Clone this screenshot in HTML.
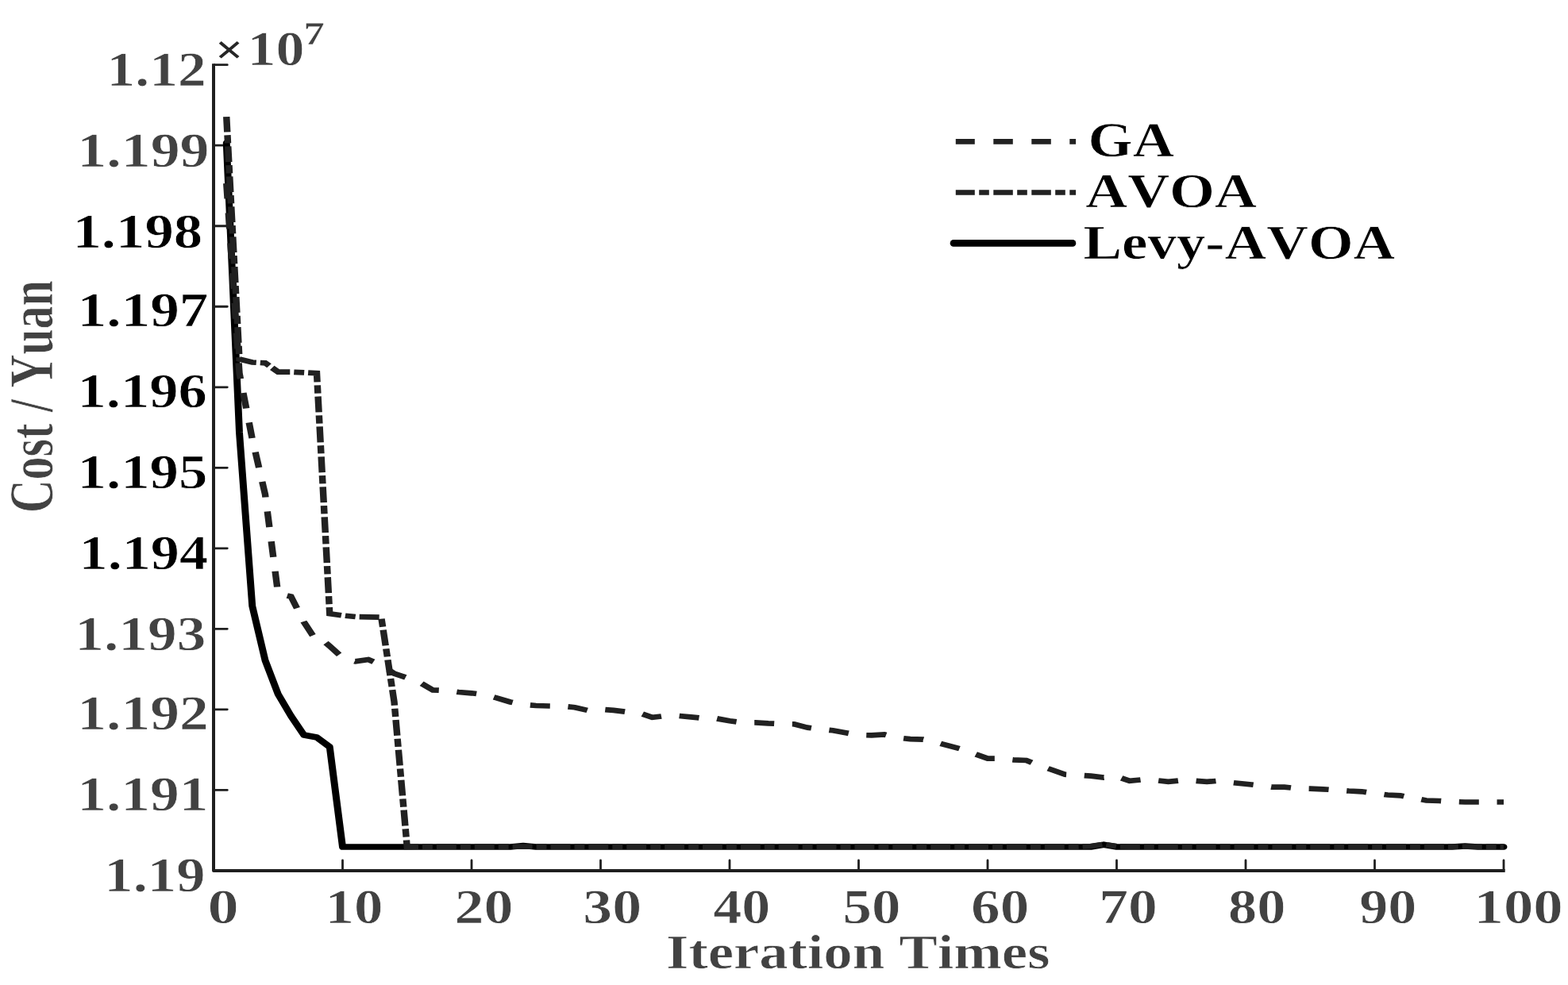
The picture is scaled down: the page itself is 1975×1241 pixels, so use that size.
<!DOCTYPE html>
<html lang="en"><head><meta charset="utf-8"><title>Convergence curves</title>
<style>
html,body{margin:0;padding:0;background:#fff;}
body{width:1975px;height:1241px;overflow:hidden;}
svg{display:block;}
svg text{font-family:"Liberation Serif","DejaVu Serif",serif;font-size:100px;font-kerning:none;text-rendering:geometricPrecision;}
</style></head>
<body>
<svg width="1975" height="1241" viewBox="0 0 1975 1241">
<rect width="1975" height="1241" fill="#ffffff"/>
<g id="axes">
<path d="M269 80.3 V1096.9 H1895.7" fill="none" stroke="#1f1f1f" stroke-width="4" stroke-linejoin="round"/>
<path d="M270 81.70 H286.3 M270 183.22 H286.3 M270 284.74 H286.3 M270 386.26 H286.3 M270 487.78 H286.3 M270 589.30 H286.3 M270 690.82 H286.3 M270 792.34 H286.3 M270 893.86 H286.3 M270 995.38 H286.3 M431.50 1096 V1084 M594.00 1096 V1084 M756.50 1096 V1084 M919.00 1096 V1084 M1081.50 1096 V1084 M1244.00 1096 V1084 M1406.50 1096 V1084 M1569.00 1096 V1084 M1731.50 1096 V1084 M1894.00 1096 V1084" fill="none" stroke="#1f1f1f" stroke-width="2.8" stroke-linecap="round"/>
</g>
<g id="curves">
<g transform="scale(1.16 1)">
<path d="M245.91 180.00 L259.91 545.00 L273.92 763.50 L287.93 832.00 L301.94 874.50 L315.95 902.00 L329.96 926.00 L343.97 929.00 L357.97 941.00 L371.98 1067.00 L385.99 1067.00 L400.00 1067.00 L414.01 1067.00 L428.02 1067.00 L442.03 1067.00 L456.03 1067.00 L470.04 1067.00 L484.05 1067.00 L498.06 1067.00 L512.07 1067.00 L526.08 1067.00 L540.09 1067.00 L554.09 1067.00 L568.10 1065.50 L582.11 1067.00 L596.12 1067.00 L610.13 1067.00 L624.14 1067.00 L638.15 1067.00 L652.16 1067.00 L666.16 1067.00 L680.17 1067.00 L694.18 1067.00 L708.19 1067.00 L722.20 1067.00 L736.21 1067.00 L750.22 1067.00 L764.22 1067.00 L778.23 1067.00 L792.24 1067.00 L806.25 1067.00 L820.26 1067.00 L834.27 1067.00 L848.28 1067.00 L862.28 1067.00 L876.29 1067.00 L890.30 1067.00 L904.31 1067.00 L918.32 1067.00 L932.33 1067.00 L946.34 1067.00 L960.34 1067.00 L974.35 1067.00 L988.36 1067.00 L1002.37 1067.00 L1016.38 1067.00 L1030.39 1067.00 L1044.40 1067.00 L1058.41 1067.00 L1072.41 1067.00 L1086.42 1067.00 L1100.43 1067.00 L1114.44 1067.00 L1128.45 1067.00 L1142.46 1067.00 L1156.47 1067.00 L1170.47 1067.00 L1184.48 1067.00 L1198.49 1064.20 L1212.50 1067.00 L1226.51 1067.00 L1240.52 1067.00 L1254.53 1067.00 L1268.53 1067.00 L1282.54 1067.00 L1296.55 1067.00 L1310.56 1067.00 L1324.57 1067.00 L1338.58 1067.00 L1352.59 1067.00 L1366.59 1067.00 L1380.60 1067.00 L1394.61 1067.00 L1408.62 1067.00 L1422.63 1067.00 L1436.64 1067.00 L1450.65 1067.00 L1464.66 1067.00 L1478.66 1067.00 L1492.67 1067.00 L1506.68 1067.00 L1520.69 1067.00 L1534.70 1067.00 L1548.71 1067.00 L1562.72 1067.00 L1576.72 1067.00 L1590.73 1066.00 L1604.74 1067.00 L1618.75 1067.00 L1632.76 1067.00" fill="none" stroke="#000000" stroke-width="7.7" stroke-linecap="round" stroke-linejoin="round"/>
</g>
<g transform="scale(1.26 1)">
<path d="M226.39 231.00 L239.29 470.00 L252.18 553.00 L265.08 623.00 L277.98 748.00 L290.87 751.50 L303.77 783.50 L316.67 808.40 L325.69 809.80 L329.56 814.10 L342.46 828.50 L355.36 833.40 L368.25 831.00 L381.15 838.00 L394.05 848.60 L406.94 853.90 L419.84 860.00 L432.74 869.40 L445.63 870.00 L458.53 872.00 L471.43 873.30 L484.33 875.30 L497.22 879.60 L510.12 884.50 L523.02 887.80 L535.91 889.00 L548.81 889.50 L561.71 889.70 L574.60 891.20 L587.50 895.00 L600.40 893.60 L613.29 894.90 L626.19 896.90 L639.09 898.20 L651.98 903.90 L664.88 901.90 L677.78 901.90 L690.67 903.30 L703.57 904.90 L716.47 905.30 L729.37 908.30 L742.26 910.30 L755.16 910.30 L768.06 911.30 L780.95 912.00 L793.85 912.30 L806.75 916.60 L819.64 918.60 L832.54 920.30 L845.44 923.30 L858.33 926.00 L871.23 926.40 L884.13 925.50 L897.02 929.40 L909.92 931.10 L922.82 931.60 L935.71 935.20 L948.61 939.70 L961.51 943.90 L974.40 949.90 L987.30 955.60 L1000.20 955.60 L1013.10 957.30 L1025.99 958.00 L1038.89 964.50 L1051.79 970.00 L1064.68 975.80 L1077.58 976.60 L1090.48 977.70 L1103.37 979.60 L1116.27 978.20 L1129.17 983.90 L1142.06 982.30 L1154.96 983.10 L1167.86 984.90 L1180.75 983.30 L1193.65 983.60 L1206.55 984.90 L1219.44 983.60 L1232.34 986.10 L1245.24 987.80 L1258.13 989.40 L1271.03 991.60 L1283.93 991.60 L1296.83 993.30 L1309.72 993.60 L1322.62 994.30 L1335.52 995.40 L1348.41 996.50 L1361.31 997.30 L1374.21 999.50 L1387.10 1001.50 L1400.00 1002.30 L1412.90 1005.50 L1425.79 1008.50 L1438.69 1009.00 L1451.59 1010.00 L1464.48 1010.50 L1477.38 1010.50 L1490.28 1010.50 L1503.17 1010.50" fill="none" stroke="#212121" stroke-width="6.7" stroke-linecap="butt" stroke-linejoin="miter" stroke-dasharray="19.84 18.02" stroke-dashoffset="0.40"/>
<path d="M226.39 147.20 L239.29 452.40 L252.18 456.50 L265.08 457.30 L277.98 468.60 L290.87 468.60 L303.77 469.40 L316.67 470.20 L329.56 773.20 L342.46 775.40 L355.36 777.00 L368.25 777.30 L381.15 777.70 L394.05 884.00 L406.94 1067.00 L419.84 1066.60 L432.74 1066.60 L445.63 1066.60 L458.53 1066.60 L471.43 1066.60 L484.33 1066.60 L497.22 1066.60 L510.12 1066.60 L523.02 1066.60 L535.91 1066.60 L548.81 1066.60 L561.71 1066.60 L574.60 1066.60 L587.50 1066.60 L600.40 1066.60 L613.29 1066.60 L626.19 1066.60 L639.09 1066.60 L651.98 1066.60 L664.88 1066.60 L677.78 1066.60 L690.67 1066.60 L703.57 1066.60 L716.47 1066.60 L729.37 1066.60 L742.26 1066.60 L755.16 1066.60 L768.06 1066.60 L780.95 1066.60 L793.85 1066.60 L806.75 1066.60 L819.64 1066.60 L832.54 1066.60 L845.44 1066.60 L858.33 1066.60 L871.23 1066.60 L884.13 1066.60 L897.02 1066.60 L909.92 1066.60 L922.82 1066.60 L935.71 1066.60 L948.61 1066.60 L961.51 1066.60 L974.40 1066.60 L987.30 1066.60 L1000.20 1066.60 L1013.10 1066.60 L1025.99 1066.60 L1038.89 1066.60 L1051.79 1066.60 L1064.68 1066.60 L1077.58 1066.60 L1090.48 1066.00 L1103.37 1063.80 L1116.27 1066.20 L1129.17 1066.60 L1142.06 1066.60 L1154.96 1066.60 L1167.86 1066.60 L1180.75 1066.60 L1193.65 1066.60 L1206.55 1066.60 L1219.44 1066.60 L1232.34 1066.60 L1245.24 1066.60 L1258.13 1066.60 L1271.03 1066.60 L1283.93 1066.60 L1296.83 1066.60 L1309.72 1066.60 L1322.62 1066.60 L1335.52 1066.60 L1348.41 1066.60 L1361.31 1066.60 L1374.21 1066.60 L1387.10 1066.60 L1400.00 1066.60 L1412.90 1066.60 L1425.79 1066.60 L1438.69 1066.60 L1451.59 1066.60 L1464.48 1066.60 L1477.38 1066.60 L1490.28 1066.60 L1503.17 1066.60" fill="none" stroke="#212121" stroke-width="6.7" stroke-linecap="butt" stroke-linejoin="miter" stroke-dasharray="19.84 3.97 10.24 3.94" stroke-dashoffset="0.75"/>
</g>
</g>
<g id="legend">
<path d="M1203.8 178.45 H1355.1" stroke="#212121" stroke-width="6.7" stroke-dasharray="24.5 23.5" stroke-dashoffset="0.5" fill="none"/>
<path d="M1203.8 242.5 H1355.1" stroke="#212121" stroke-width="6.7" stroke-dasharray="24.5 5.4 12.6 5.5" stroke-dashoffset="0.5" fill="none"/>
<path d="M1201 306.4 H1351" stroke="#000000" stroke-width="8.6" stroke-linecap="round" fill="none"/>
</g>
<g id="labels">
<text transform="matrix(0.71492 0 0 0.61558 134.56 107.84)" font-weight="bold" fill="#424242" stroke="#ffffff" stroke-width="1.1">1.12</text>
<text transform="matrix(0.73903 0 0 0.61603 97.26 210.41)" font-weight="bold" fill="#424242" stroke="#ffffff" stroke-width="1.1">1.199</text>
<text transform="matrix(0.72783 0 0 0.61089 91.44 312.09)" font-weight="bold" fill="#000000" stroke="#ffffff" stroke-width="1.1">1.198</text>
<text transform="matrix(0.73361 0 0 0.61129 97.45 411.07)" font-weight="bold" fill="#000000" stroke="#ffffff" stroke-width="1.1">1.197</text>
<text transform="matrix(0.72583 0 0 0.61066 97.50 513.31)" font-weight="bold" fill="#000000" stroke="#ffffff" stroke-width="1.1">1.196</text>
<text transform="matrix(0.72874 0 0 0.61123 97.47 615.27)" font-weight="bold" fill="#000000" stroke="#ffffff" stroke-width="1.1">1.195</text>
<text transform="matrix(0.72237 0 0 0.61136 99.51 717.19)" font-weight="bold" fill="#000000" stroke="#ffffff" stroke-width="1.1">1.194</text>
<text transform="matrix(0.73327 0 0 0.61472 94.32 819.31)" font-weight="bold" fill="#424242" stroke="#ffffff" stroke-width="1.1">1.193</text>
<text transform="matrix(0.73563 0 0 0.61598 97.27 919.22)" font-weight="bold" fill="#424242" stroke="#ffffff" stroke-width="1.1">1.192</text>
<text transform="matrix(0.73545 0 0 0.61669 97.17 1021.34)" font-weight="bold" fill="#424242" stroke="#ffffff" stroke-width="1.1">1.191</text>
<text transform="matrix(0.72687 0 0 0.61506 131.35 1123.12)" font-weight="bold" fill="#424242" stroke="#ffffff" stroke-width="1.1">1.19</text>
<text transform="matrix(0.78371 0 0 0.61409 261.38 1162.96)" font-weight="bold" fill="#424242" stroke="#ffffff" stroke-width="1.1">0</text>
<text transform="matrix(0.72974 0 0 0.61226 409.47 1162.82)" font-weight="bold" fill="#424242" stroke="#ffffff" stroke-width="1.1">10</text>
<text transform="matrix(0.73919 0 0 0.61232 572.61 1162.98)" font-weight="bold" fill="#424242" stroke="#ffffff" stroke-width="1.1">20</text>
<text transform="matrix(0.73880 0 0 0.61174 734.22 1163.16)" font-weight="bold" fill="#424242" stroke="#ffffff" stroke-width="1.1">30</text>
<text transform="matrix(0.72078 0 0 0.61305 898.28 1163.05)" font-weight="bold" fill="#424242" stroke="#ffffff" stroke-width="1.1">40</text>
<text transform="matrix(0.72985 0 0 0.61383 1061.57 1162.89)" font-weight="bold" fill="#424242" stroke="#ffffff" stroke-width="1.1">50</text>
<text transform="matrix(0.73121 0 0 0.61121 1223.10 1162.57)" font-weight="bold" fill="#424242" stroke="#ffffff" stroke-width="1.1">60</text>
<text transform="matrix(0.73576 0 0 0.61528 1384.18 1162.86)" font-weight="bold" fill="#424242" stroke="#ffffff" stroke-width="1.1">70</text>
<text transform="matrix(0.72469 0 0 0.61184 1546.94 1162.63)" font-weight="bold" fill="#424242" stroke="#ffffff" stroke-width="1.1">80</text>
<text transform="matrix(0.72036 0 0 0.61160 1712.19 1163.46)" font-weight="bold" fill="#424242" stroke="#ffffff" stroke-width="1.1">90</text>
<text transform="matrix(0.74702 0 0 0.61394 1856.59 1163.49)" font-weight="bold" fill="#424242" stroke="#ffffff" stroke-width="1.1">100</text>
<text transform="matrix(0.72822 0 0 0.61142 839.12 1220.34)" font-weight="bold" fill="#424242" stroke="#ffffff" stroke-width="1.1">Iteration Times</text>
<text transform="matrix(0.72283 0 0 0.61913 1370.55 196.82)" font-weight="bold" fill="#000000" stroke="#ffffff" stroke-width="1.1">GA</text>
<text transform="matrix(0.73285 0 0 0.60990 1367.22 261.14)" font-weight="bold" fill="#000000" stroke="#ffffff" stroke-width="1.1">AVOA</text>
<text transform="matrix(0.72890 0 0 0.61240 1364.49 326.23)" font-weight="bold" fill="#000000" stroke="#ffffff" stroke-width="1.1">Levy-AVOA</text>
<text transform="matrix(0.58827 0 0 0.48749 271.95 78.93)" font-weight="normal" fill="#262626" stroke="#262626" stroke-width="2.2">×</text>
<text transform="matrix(0.72027 0 0 0.61318 311.61 82.17)" font-weight="bold" fill="#424242" stroke="#ffffff" stroke-width="1.1">10</text>
<text transform="matrix(0.53154 0 0 0.41029 382.27 56.13)" font-weight="bold" fill="#424242" stroke="#ffffff" stroke-width="1.1">7</text>
<text transform="matrix(0 -0.57965 0.79030 0 65.86 646.33)" font-weight="bold" fill="#424242" stroke="#ffffff" stroke-width="1.1">Cost / Yuan</text>
</g>
</svg>
</body></html>
